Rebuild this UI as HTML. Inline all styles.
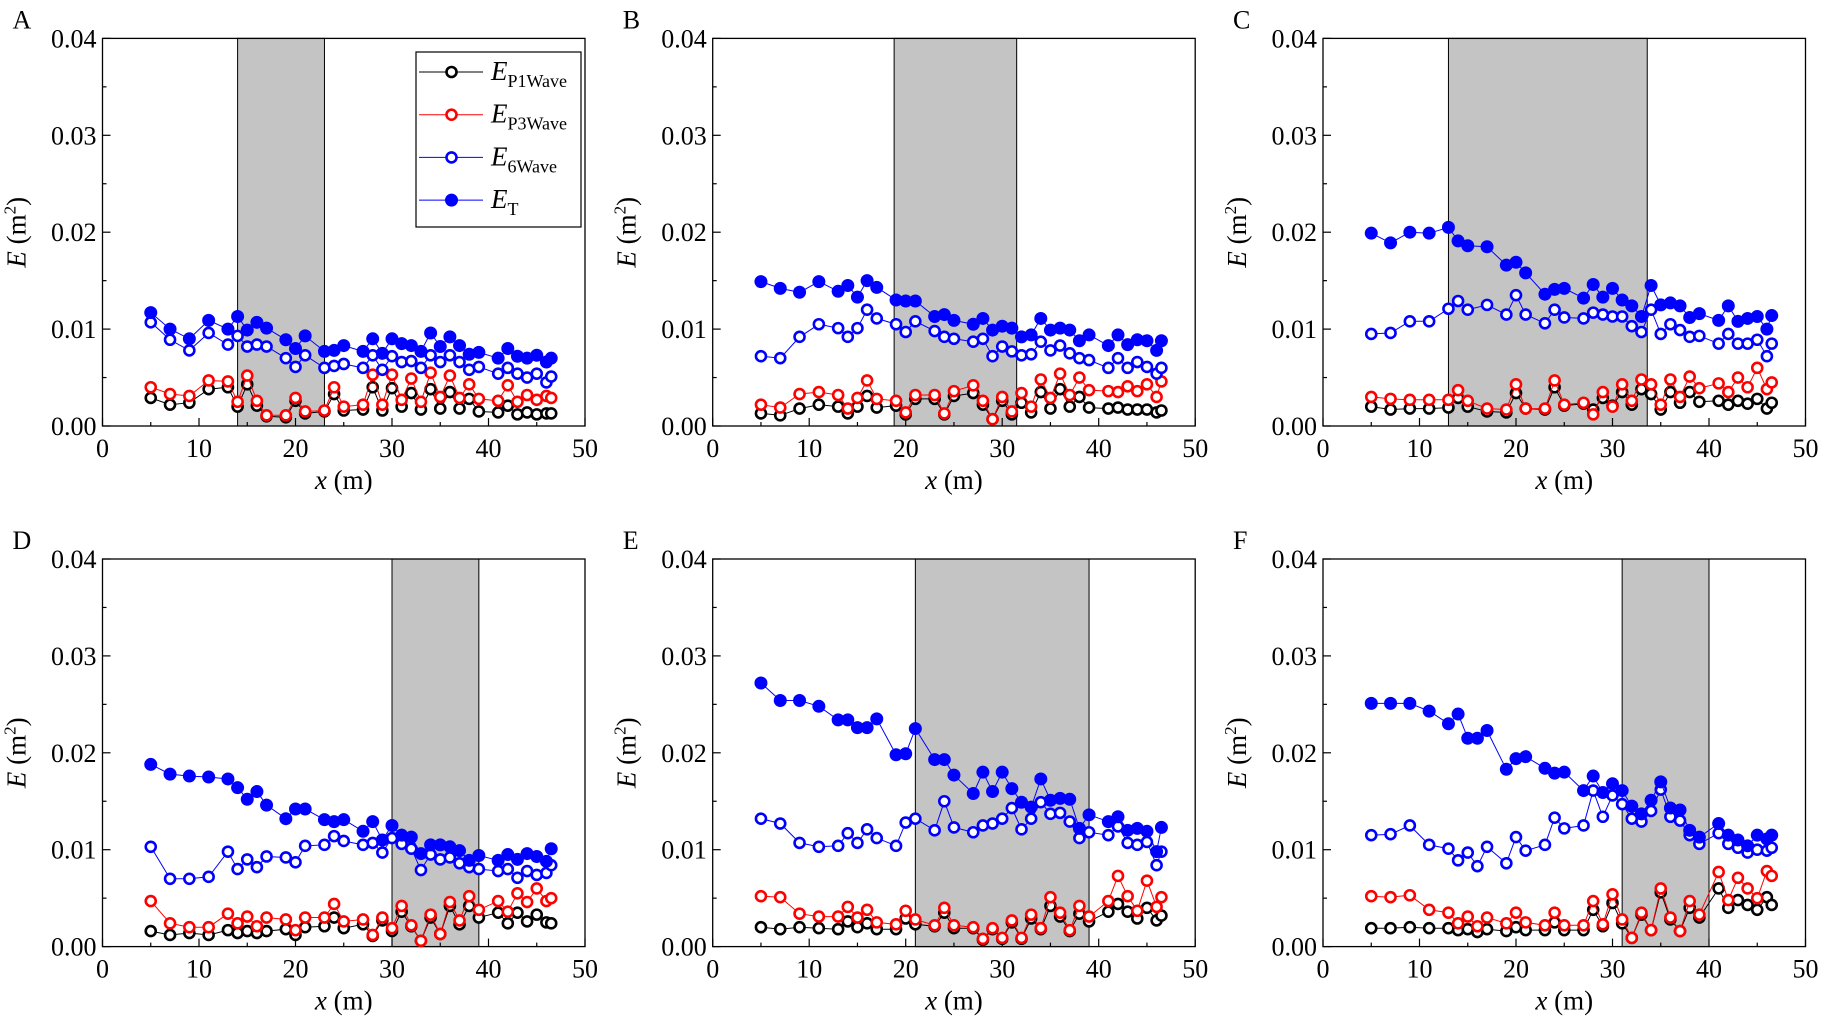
<!DOCTYPE html>
<html><head><meta charset="utf-8">
<style>
html,body{margin:0;padding:0;background:#fff;}
svg{display:block;}
svg text{font-family:"Liberation Serif","Times New Roman",serif;}
</style></head>
<body>
<svg id="fig" width="1826" height="1030" viewBox="0 0 1826 1030" xmlns="http://www.w3.org/2000/svg" font-family="Liberation Serif, serif"></svg>
<script>
const xsAll = [5,7,9,11,13,14,15,16,17,19,20,21,23,24,25,27,28,29,30,31,32,33,34,35,36,37,38,39,41,42,43,44,45,46,46.5];
const xsC = [5,7,9,11,13,14,15,17,19,20,21,23,24,25,27,28,29,30,31,32,33,34,35,36,37,38,39,41,42,43,44,45,46,46.5];
const yTickLabels = ["0.00","0.01","0.02","0.03","0.04"];
const xTickLabels = ["0","10","20","30","40","50"];
const panelLetters = ["A","B","C","D","E","F"];
const shadeStart = [14,18.8,13,30,21,31];
const shadeEnd = [23,31.5,33.6,39,39,40];

// values in units of 0.001 m^2
const A_T = [11.7,10,9,10.9,10,11.3,9.9,10.7,10.1,8.9,8,9.3,7.7,7.8,8.3,7.7,9,7.5,9,8.5,8.3,7.7,9.6,8.2,9.2,8.3,7.4,7.6,7,8,7.2,7,7.3,6.6,7];
const A_6 = [10.7,8.9,7.8,9.6,8.4,9.3,8.2,8.4,8.2,7,6.1,7.3,6,6.2,6.4,6,7.3,5.8,7.2,6.6,6.7,6,7.3,6.6,7.3,6.6,5.8,6.1,5.4,6,5.4,5,5.4,4.5,5.1];
const A_P3 = [4,3.3,3.1,4.7,4.6,2.5,5.2,2.6,1.1,1.1,2.9,1.5,1.6,4,2,2.2,5.3,2.2,5.3,2.7,4.9,2.5,5.5,3,5.2,2.9,4.3,2.8,2.6,4.2,2.5,3.2,2.7,3.1,2.9];
const A_P1 = [2.9,2.2,2.4,3.8,4,2,4.3,2.1,1,0.9,2.6,1.3,1.5,3.3,1.6,1.7,4,1.6,3.9,2,3.4,1.7,3.8,1.8,3.5,1.8,2.8,1.5,1.4,2.1,1.2,1.4,1.2,1.3,1.3];

const B_T = [14.9,14.2,13.8,14.9,13.9,14.5,13.3,15,14.3,13,12.9,12.9,11.3,11.5,10.9,10.5,11.1,9.9,10.3,10.1,9.2,9.4,11.1,9.9,10.1,9.9,8.8,9.4,8.3,9.4,8.4,8.9,8.8,7.8,8.8];
const B_6 = [7.2,7,9.2,10.5,10.1,9.2,10.1,12,11.1,10.5,9.7,10.8,9.8,9.2,9,8.7,9,7.2,8.2,7.7,7.3,7.4,8.7,7.8,8.3,7.5,7,6.8,6,7,6,6.6,6.1,5.4,6];
const B_P3 = [2.2,1.9,3.3,3.5,3.2,1.8,2.9,4.7,2.8,2.6,1.4,3.2,3.2,1.3,3.6,4.2,2.6,0.7,3,1.5,3.4,2,4.8,2.9,5.4,3.2,5,3.7,3.6,3.5,4.1,3.6,4.3,3,4.6];
const B_P1 = [1.3,1.1,1.8,2.2,2,1.3,2,3.1,1.9,2.1,1.2,2.8,2.8,1.2,3.1,3.4,2.2,0.7,2.6,1.2,2.4,1.4,3.5,1.8,3.8,2,3,1.9,1.8,1.9,1.7,1.7,1.7,1.4,1.6];

const C_T = [19.9,18.9,20,19.9,20.5,19.1,18.6,18.5,16.6,16.9,15.8,13.6,14.1,14.2,13.2,14.6,13.3,14.2,13,12.4,11.3,14.5,12.5,12.7,12.4,11.2,11.6,10.9,12.4,10.8,11.1,11.3,10,11.4];
const C_6 = [9.5,9.6,10.8,10.8,12.1,12.9,12,12.5,11.5,13.5,11.5,10.6,12,11.2,11.1,11.7,11.5,11.3,11.3,10.3,9.7,12,9.5,10.5,9.9,9.2,9.3,8.5,9.5,8.5,8.5,8.9,7.2,8.5];
const C_P3 = [3,2.8,2.7,2.7,2.7,3.7,2.6,1.8,1.7,4.3,1.8,1.8,4.7,2.2,2.4,1.2,3.5,2,4.3,2.6,4.8,4.3,2.2,4.8,3,5.1,3.9,4.4,3.5,5,4,6,3.8,4.5];
const C_P1 = [2,1.7,1.8,1.8,1.9,2.9,2,1.5,1.4,3.4,1.8,1.7,4,2.1,2.3,1.7,2.9,2.1,3.5,2.2,3.8,3.3,1.7,3.5,2.4,3.5,2.5,2.6,2.2,2.6,2.3,2.8,1.8,2.4];

const D_T = [18.8,17.8,17.6,17.5,17.3,16.4,15.2,16,14.6,13.2,14.2,14.2,13.1,12.9,13.1,11.9,12.9,11,12.5,11.5,11.3,9.6,10.5,10.5,10.3,9.9,8.9,9.4,8.9,9.5,9,9.6,9.3,8.8,10.1];
const D_6 = [10.3,7,7,7.2,9.8,8,9,8.2,9.3,9.2,8.7,10.4,10.5,11.4,10.9,10.5,10.7,9.7,11.2,10.6,10.1,7.9,9.5,9,9.2,8.6,8.2,8,7.8,8,7.1,7.8,7.4,7.6,8.4];
const D_P3 = [4.7,2.4,2,2,3.4,2.4,3.1,2.1,3,2.8,1.7,3,3,4.4,2.6,2.8,1.2,3,1.9,4.2,2.2,0.6,3.3,1.3,4.6,2.7,5.2,3.8,4.7,3.6,5.5,4.6,6,4.7,5];
const D_P1 = [1.6,1.2,1.4,1.2,1.7,1.4,1.6,1.4,1.6,1.8,1.2,2,2.1,3,1.9,2.3,1.1,2.7,1.6,3.6,2.1,0.6,3,1.3,4.2,2.3,4.2,3,3.5,2.4,3.5,2.6,3.3,2.5,2.4];

const E_T = [27.2,25.4,25.4,24.8,23.4,23.4,22.6,22.6,23.5,19.8,19.9,22.5,19.3,19.3,17.7,15.8,18,16,18,16.3,14.9,14.4,17.3,15.1,15.3,15.2,12.2,13.6,12.9,13.4,12,12.2,11.9,9.8,12.3];
const E_6 = [13.2,12.7,10.7,10.3,10.4,11.7,10.7,12.1,11.2,10.4,12.8,13.2,12,15,12.3,11.8,12.5,12.7,13.2,14.3,12.1,13.2,14.9,13.7,13.8,12.9,11.2,11.8,11.5,12.4,10.7,10.5,10.8,8.4,9.8];
const E_P3 = [5.2,5.1,3.4,3.1,3.1,4.1,3,3.8,2.5,2.3,3.7,2.8,2.2,4,2.2,2,0.8,1.9,0.9,2.7,0.9,3.3,1.9,5.1,3.5,1.7,4.2,3.1,4.7,7.3,5.2,3.7,6.8,4.1,5.1];
const E_P1 = [2,1.8,2,1.9,1.8,2.6,2,2.4,1.8,1.8,2.9,2.3,2.1,3.5,1.9,1.9,0.7,1.8,0.8,2.5,0.8,2.9,1.8,4.2,3.1,1.6,3.4,2.6,3.6,4.4,3.6,2.9,4,2.7,3.2];

const F_T = [25.1,25.1,25.1,24.3,23,24,21.5,21.5,22.3,18.3,19.4,19.6,18.4,17.9,18,16.1,17.6,15.9,16.8,16.1,14.5,13.7,15.1,17,14.3,14.1,12,11.3,12.7,11.5,11,10.4,11.5,11.1,11.5];
const F_6 = [11.5,11.6,12.5,10.5,10.1,8.9,9.7,8.3,10.3,8.6,11.3,9.9,10.5,13.3,12.2,12.5,16.1,13.4,15.6,14.7,13.2,12.9,14,16.2,13.4,13,11.5,10.6,11.7,10.6,10.2,9.7,10,9.9,10.2];
const F_P3 = [5.2,5.1,5.3,3.8,3.5,2.4,3.1,2.1,3,2.4,3.5,2.5,2.2,3.5,2.2,2.2,4.7,2.3,5.4,2.8,0.9,3.5,1.7,6,3,1.6,4.7,3.3,7.7,4.8,7.1,6,5,7.8,7.3];
const F_P1 = [1.9,1.9,2,1.9,1.9,1.7,1.8,1.5,1.8,1.6,2,1.7,1.7,2.5,1.7,1.7,3.8,2.1,4.5,2.4,0.9,3.3,1.7,5.6,2.8,1.6,4,3,6,4,4.8,4.3,3.8,5.1,4.3];

const panelXs = [xsAll,xsAll,xsC,xsAll,xsAll,xsAll];
const panelT = [A_T,B_T,C_T,D_T,E_T,F_T];
const panel6 = [A_6,B_6,C_6,D_6,E_6,F_6];
const panelP3 = [A_P3,B_P3,C_P3,D_P3,E_P3,F_P3];
const panelP1 = [A_P1,B_P1,C_P1,D_P1,E_P1,F_P1];

const NS = "http://www.w3.org/2000/svg";
const svg = document.getElementById("fig");
const FF = '"Liberation Serif", "Times New Roman", serif';
function mk(tag, attrs, parent){
  const e = document.createElementNS(NS, tag);
  for (const k in attrs) e.setAttribute(k, attrs[k]);
  if (tag === "text") e.style.fontFamily = FF;
  (parent||svg).appendChild(e);
  return e;
}
const lefts = [102.5, 712.7, 1323];
const tops = [38.4, 559];
const W = 482.5, H = 387.6;

for (let p = 0; p < 6; p++) {
  const L = lefts[p % 3], T = tops[Math.floor(p / 3)];
  const g = mk("g", {});
  
  
  const sx = v => L + v / 50 * W;
  const sy = v => T + H - v / 40 * H;

  const sh = mk("rect", {x: sx(shadeStart[p]), y: T, width: sx(shadeEnd[p]) - sx(shadeStart[p]), height: H, fill: "#c4c4c4", stroke: "#000", "stroke-width": 1}, g);
  
  

  const fr = mk("rect", {x: L, y: T, width: W, height: H, fill: "none", stroke: "#000", "stroke-width": 1.3}, g);
  
  

  for (let i = 0; i <= 8; i++) {
    const v = i * 5, y = sy(v), len = i % 2 === 0 ? 8 : 4;
    mk("line", {x1: L, x2: L + len, y1: y, y2: y, stroke: "#000", "stroke-width": 1.2}, g);
    if (i % 2 === 0) {
      const t = mk("text", {x: L - 6, y: y + 9, "text-anchor": "end", "font-size": 26}, g);
      t.textContent = yTickLabels[i / 2];
      
      
    }
  }
  for (let i = 0; i <= 10; i++) {
    const v = i * 5, x = sx(v), len = i % 2 === 0 ? 8 : 4;
    mk("line", {x1: x, x2: x, y1: T + H, y2: T + H - len, stroke: "#000", "stroke-width": 1.2}, g);
    if (i % 2 === 0) {
      const t = mk("text", {x: x, y: T + H + 31, "text-anchor": "middle", "font-size": 26}, g);
      t.textContent = xTickLabels[i / 2];
      
      
    }
  }
  const xt = mk("text", {x: L + W / 2, y: T + H + 63, "text-anchor": "middle", "font-size": 27}, g);
  xt.innerHTML = '<tspan font-style="italic">x</tspan> (m)';
  
  
  const yt = mk("text", {x: 0, y: 0, "text-anchor": "middle", "font-size": 27, transform: `translate(${L - 77},${T + H / 2}) rotate(-90)`}, g);
  yt.innerHTML = '<tspan font-style="italic">E</tspan> (m<tspan dy="-10" font-size="17">2</tspan><tspan dy="10">)</tspan>';
  
  
  const pl = mk("text", {x: L - 90, y: T - 10, "font-size": 26}, g);
  pl.textContent = panelLetters[p];
  
  

  const xs = panelXs[p];
  const series = [
    {vals: panelT[p], col: "#0000ff", fill: true, name: "series-et"},
    {vals: panel6[p], col: "#0000ff", fill: false, name: "series-e6wave"},
    {vals: panelP3[p], col: "#ff0000", fill: false, name: "series-ep3wave"},
    {vals: panelP1[p], col: "#000000", fill: false, name: "series-ep1wave"}
  ];
  for (let s = series.length - 1; s >= 0; s--) {
    const se = series[s];
    const sg = mk("g", {}, g);
    
    
    const pts = se.vals.map((v, i) => sx(xs[i]).toFixed(1) + "," + sy(v).toFixed(1)).join(" ");
    mk("polyline", {points: pts, fill: "none", stroke: se.col, "stroke-width": 1}, sg);
    se.vals.forEach((v, i) => {
      const c = mk("circle", se.fill ?
        {cx: sx(xs[i]), cy: sy(v), r: 6.5, fill: se.col} :
        {cx: sx(xs[i]), cy: sy(v), r: 5, fill: "#fff", stroke: se.col, "stroke-width": 2.6}, sg);
      
      
    });
  }
}

const lg = mk("g", {});


mk("rect", {x: 416, y: 52, width: 165, height: 175, fill: "#fff", stroke: "#000", "stroke-width": 1.2}, lg);
const legCols = ["#000000","#ff0000","#0000ff","#0000ff"];
const legFill = [false,false,false,true];
const legSub = ["P1Wave","P3Wave","6Wave","T"];
for (let i = 0; i < 4; i++) {
  const y = 72 + i * 42.7;
  const e = mk("g", {}, lg);
  
  
  mk("line", {x1: 419, x2: 483, y1: y, y2: y, stroke: legCols[i], "stroke-width": 1}, e);
  if (legFill[i]) mk("circle", {cx: 451.5, cy: y, r: 6.5, fill: legCols[i]}, e);
  else mk("circle", {cx: 451.5, cy: y, r: 5, fill: "#fff", stroke: legCols[i], "stroke-width": 2.6}, e);
  const t = mk("text", {x: 491, y: y + 8, "font-size": 27}, e);
  t.innerHTML = '<tspan font-style="italic">E</tspan><tspan dy="7" font-size="18">' + legSub[i] + '</tspan>';
}
</script>
</body></html>
